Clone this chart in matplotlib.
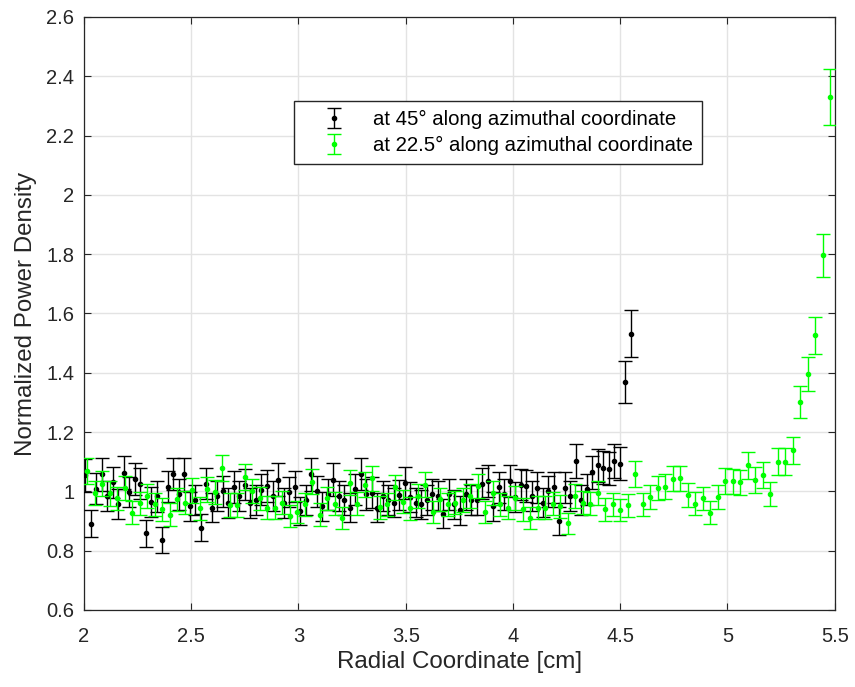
import numpy as np
import matplotlib
matplotlib.use("Agg")
import matplotlib.pyplot as plt

# ---- data ----
black_x_start, black_x_stop, black_n = 2.005, 4.55, 100
green_x_start, green_x_stop, green_n = 2.015, 5.48, 100

black_y = [
    1.054, 0.891, 1.009, 1.057, 0.985, 1.03, 0.958, 1.063, 0.998, 1.043, 1.026, 0.858, 0.964, 0.983, 0.837, 1.016,
    1.059, 0.99, 1.057, 0.950, 0.97, 0.877, 1.026, 0.945, 0.984, 1.0, 0.96, 1.015, 0.984, 1.023, 0.96, 0.970, 1.006,
    1.018, 0.984, 1.04, 0.96, 0.998, 1.016, 0.934, 0.97, 1.057, 1.001, 0.95, 0.99, 1.04, 0.984, 0.97, 0.945, 1.007,
    1.059, 0.99, 0.996, 0.945, 0.984, 0.97, 0.962, 0.988, 1.029, 0.98, 0.962, 0.956, 0.97, 0.99, 0.984, 0.925, 0.990, 0.956,
    0.936, 0.99, 0.97, 0.97, 1.026, 1.035, 0.95, 1.014, 0.99, 1.035, 0.98, 1.023, 1.018, 0.984, 1.012, 0.962, 1.001,
    1.014, 0.9, 1.012, 0.984, 1.104, 0.97, 1.007, 1.065, 1.088, 1.08, 1.076, 1.104, 1.094,
    1.369, 1.532,
]
green_y = [
    1.068, 0.995, 1.026, 0.993, 0.976, 1.012, 0.928, 0.960, 0.986, 0.956, 0.94, 0.922,
    0.973, 0.962, 1.003, 0.943, 1.007, 0.998, 1.080, 0.954, 0.954, 1.048, 1.001, 0.976,
    0.945, 0.945, 0.962, 0.917, 0.93, 0.956, 1.033, 0.922, 0.976, 0.958, 0.911, 1.029, 0.958,
    1.023, 1.044, 0.947, 0.956, 1.014, 0.965, 0.943, 0.984, 1.023, 0.931, 0.973, 0.956, 0.962,
    0.97, 0.984, 1.018, 0.931, 0.995, 0.956, 0.945, 0.979, 0.939, 0.911, 0.945, 0.945,
    0.959, 0.950, 0.892, 0.984, 0.962, 0.959, 0.995, 0.939, 0.956, 0.937, 0.953, 1.059, 0.956,
    0.981, 1.012, 1.016, 1.043, 1.044, 0.988, 0.959, 0.976, 0.928, 0.981, 1.035, 1.034, 1.031,
    1.088, 1.038, 1.055, 0.990, 1.100, 1.100, 1.138, 1.301, 1.396, 1.527, 1.796, 2.330,
]
black_rel_err = 0.052
green_rel_err = 0.041

series_labels = ["at 45\u00b0 along azimuthal coordinate",
                 "at 22.5\u00b0 along azimuthal coordinate"]
x_label = "Radial Coordinate [cm]"
y_label = "Normalized Power Density"
x_ticks = [2, 2.5, 3, 3.5, 4, 4.5, 5, 5.5]
x_ticklabels = ["2", "2.5", "3", "3.5", "4", "4.5", "5", "5.5"]
y_ticks = [0.6, 0.8, 1.0, 1.2, 1.4, 1.6, 1.8, 2.0, 2.2, 2.4, 2.6]
y_ticklabels = ["0.6", "0.8", "1", "1.2", "1.4", "1.6", "1.8", "2", "2.2", "2.4", "2.6"]

# ---- plot ----
plt.rcParams['font.family'] = ['Liberation Sans', 'DejaVu Sans']
axcol = '#262626'

black_x = np.linspace(black_x_start, black_x_stop, black_n)
green_x = np.linspace(green_x_start, green_x_stop, green_n)
by = np.array(black_y)
gy = np.array(green_y)

fig = plt.figure(figsize=(8.55, 6.87), dpi=100)
ax = fig.add_axes([0.0982, 0.1121, 0.9763 - 0.0982, 0.9753 - 0.1121])

ax.errorbar(black_x, by, yerr=by * black_rel_err, fmt='o', color='black', ecolor='black',
            markersize=3, elinewidth=1.0, capsize=5, capthick=1.0, label=series_labels[0], zorder=3)
ax.errorbar(green_x, gy, yerr=gy * green_rel_err, fmt='o', color='#00ff00', ecolor='#00ff00',
            markersize=3, elinewidth=1.0, capsize=5, capthick=1.0, label=series_labels[1], zorder=4)

ax.set_xlim(2, 5.5)
ax.set_ylim(0.6, 2.6)
ax.set_xticks(x_ticks)
ax.set_xticklabels(x_ticklabels)
ax.set_yticks(y_ticks)
ax.set_yticklabels(y_ticklabels)
ax.grid(True, color='#e3e3e3', linewidth=1.0)
ax.set_axisbelow(True)
ax.tick_params(direction='in', length=5, width=0.8, colors=axcol, labelsize=14.5,
               top=True, right=True)
ax.tick_params(axis='x', pad=12)
ax.tick_params(axis='y', pad=7)
for s in ax.spines.values():
    s.set_color(axcol)
    s.set_linewidth(0.9)

ax.set_xlabel(x_label, fontsize=17.4, color=axcol, labelpad=4)
ax.set_ylabel(y_label, fontsize=17.4, color=axcol, labelpad=7)

leg = ax.legend(loc='upper left', bbox_to_anchor=(294 / 855, 1 - 101 / 687),
                bbox_transform=fig.transFigure, borderaxespad=0, fontsize=14.7,
                fancybox=False, framealpha=1, edgecolor=axcol, handlelength=3.0,
                handletextpad=0.4, borderpad=0.45, labelspacing=0.33)
leg.get_frame().set_linewidth(1.0)

fig.savefig('out.png', dpi=100)
